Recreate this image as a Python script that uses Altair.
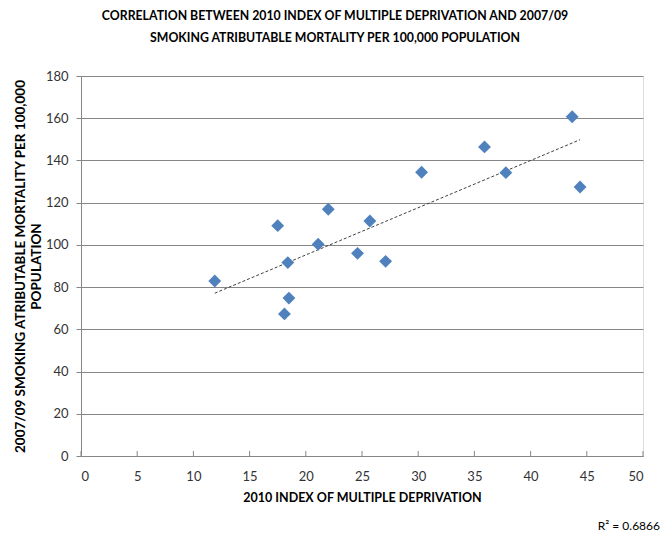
import altair as alt
import pandas as pd

imd = [11.9, 17.5, 18.4, 18.5, 18.1, 21.1, 22.0, 24.6, 25.7, 27.1, 30.3, 35.9, 37.8, 43.7, 44.4]
mortality = [82.9, 109.1, 91.6, 74.8, 67.3, 100.3, 116.9, 96.0, 111.3, 92.2, 134.4, 146.4, 134.2, 160.7, 127.4]
x_ticks = [0, 5, 10, 15, 20, 25, 30, 35, 40, 45, 50]
y_ticks = [0, 20, 40, 60, 80, 100, 120, 140, 160, 180]
r2_label = "R² = 0.6866"

df = pd.DataFrame({"x": imd, "y": mortality})
ticks_df = pd.DataFrame({"t": x_ticks})

FONT = "Lato"
GRID = "#868686"

xscale = alt.Scale(domain=[0, 50], nice=False)
yscale = alt.Scale(domain=[0, 180], nice=False)

base = alt.Chart(df)

points = base.mark_point(shape="diamond", filled=True, size=165, color="#4F81BD", opacity=1).encode(
    x=alt.X("x:Q", scale=xscale,
            axis=alt.Axis(values=x_ticks, title="2010 INDEX OF MULTIPLE DEPRIVATION",
                          grid=False, ticks=False, labelPadding=14, domainColor=GRID,
                          labelFont=FONT, labelFontSize=13, labelColor="#333333",
                          titleFont=FONT, titleFontSize=12.5, titleFontWeight="bold",
                          titleColor="#000000", titlePadding=8)),
    y=alt.Y("y:Q", scale=yscale,
            axis=alt.Axis(values=y_ticks, title=["2007/09 SMOKING ATRIBUTABLE MORTALITY PER 100,000", "POPULATION"],
                          grid=True, gridColor=GRID, gridWidth=1, domainColor=GRID,
                          tickColor=GRID, tickSize=5, labelPadding=8,
                          labelFont=FONT, labelFontSize=13, labelColor="#333333",
                          titleFont=FONT, titleFontSize=13.5, titleFontWeight="bold",
                          titleColor="#000000", titleAngle=-90, titleX=-68, titleY=190,
                          titleAlign="center", titleBaseline="top", titleLineHeight=16)),
)

trend = base.transform_regression("x", "y").mark_line(
    color="#404040", strokeWidth=1, strokeDash=[3, 2]
).encode(x=alt.X("x:Q", scale=xscale), y=alt.Y("y:Q", scale=yscale))

xticks = alt.Chart(ticks_df).mark_rule(color=GRID, strokeWidth=1).encode(
    x=alt.X("t:Q", scale=xscale),
    y=alt.value(375),
    y2=alt.value(380),
)

r2 = alt.Chart(pd.DataFrame({"label": [r2_label]})).mark_text(
    font=FONT, fontSize=12, color="#000000", align="right", baseline="middle"
).encode(x=alt.value(579), y=alt.value(450), text="label:N")

chart = alt.layer(xticks, trend, points, r2).properties(
    width=562,
    height=380,
    autosize=alt.AutoSizeParams(type="none"),
    padding={"left": 81, "top": 76, "right": 26, "bottom": 79},
    title=alt.TitleParams(
        ["CORRELATION BETWEEN 2010 INDEX OF MULTIPLE DEPRIVATION AND 2007/09",
         "SMOKING ATRIBUTABLE MORTALITY PER 100,000 POPULATION"],
        font=FONT, fontSize=12.3, fontWeight="bold", color="#000000",
        anchor="middle", dx=-27, offset=26, lineHeight=22,
    ),
).configure_view(stroke=None).configure(background="white")

chart.save("out.html", embed_options={"renderer": "svg", "actions": False})
